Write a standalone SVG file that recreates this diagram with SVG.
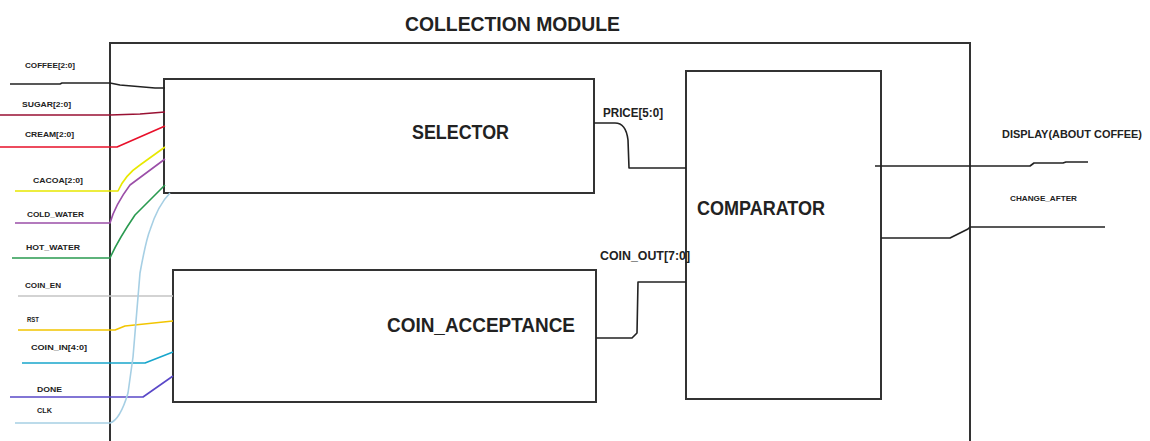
<svg xmlns="http://www.w3.org/2000/svg" width="1150" height="441" viewBox="0 0 1150 441">
<style>
.box{fill:none;stroke:#333;stroke-width:2}
.w{fill:none;stroke-width:1.6;stroke-linejoin:round}
text{font-family:"Liberation Sans",Arial,sans-serif;font-weight:bold;fill:#222}
.s{font-size:8px}
.m{font-size:12px}
.l{font-size:20px}
</style>
<rect width="1150" height="441" fill="#fff"/>
<g id="collection_module">
<path class="box" d="M110,445 V43 H970 V445"/>
<text class="l" x="405" y="31" textLength="215" lengthAdjust="spacingAndGlyphs">COLLECTION MODULE</text>
</g>
<g id="selector">
<rect class="box" x="164" y="79" width="430" height="114"/>
<text class="l" x="412" y="139" textLength="97" lengthAdjust="spacingAndGlyphs">SELECTOR</text>
</g>
<g id="coin_acceptance">
<rect class="box" x="173" y="270" width="423" height="132"/>
<text class="l" x="387" y="332" textLength="188" lengthAdjust="spacingAndGlyphs">COIN_ACCEPTANCE</text>
</g>
<g id="comparator">
<rect class="box" x="686" y="71" width="195" height="328"/>
<text class="l" x="697" y="215" textLength="128" lengthAdjust="spacingAndGlyphs">COMPARATOR</text>
</g>
<g id="labels">
<text class="s" x="25" y="68" textLength="50" lengthAdjust="spacingAndGlyphs">COFFEE[2:0]</text>
<text class="s" x="22" y="107" textLength="49" lengthAdjust="spacingAndGlyphs">SUGAR[2:0]</text>
<text class="s" x="25" y="137" textLength="49" lengthAdjust="spacingAndGlyphs">CREAM[2:0]</text>
<text class="s" x="33" y="183" textLength="50" lengthAdjust="spacingAndGlyphs">CACOA[2:0]</text>
<text class="s" x="27" y="217" textLength="57" lengthAdjust="spacingAndGlyphs">COLD_WATER</text>
<text class="s" x="26" y="250" textLength="54" lengthAdjust="spacingAndGlyphs">HOT_WATER</text>
<text class="s" x="25" y="288" textLength="36" lengthAdjust="spacingAndGlyphs">COIN_EN</text>
<text class="s" x="27" y="322" textLength="12" lengthAdjust="spacingAndGlyphs">RST</text>
<text class="s" x="31" y="350" textLength="56" lengthAdjust="spacingAndGlyphs">COIN_IN[4:0]</text>
<text class="s" x="37" y="392" textLength="25" lengthAdjust="spacingAndGlyphs">DONE</text>
<text class="s" x="37" y="413" textLength="15" lengthAdjust="spacingAndGlyphs">CLK</text>
<text class="m" x="603" y="117" textLength="60" lengthAdjust="spacingAndGlyphs">PRICE[5:0]</text>
<text class="m" x="600" y="260" textLength="90" lengthAdjust="spacingAndGlyphs">COIN_OUT[7:0]</text>
<text x="1002" y="138" font-size="10" textLength="140" lengthAdjust="spacingAndGlyphs">DISPLAY(ABOUT COFFEE)</text>
<text class="s" x="1010" y="201" textLength="67" lengthAdjust="spacingAndGlyphs">CHANGE_AFTER</text>
</g>
<g id="connectors">
<path class="w" stroke="#222" d="M10,84 H60 L62,83 H110 L120,85 L155,88 H165"/>
<path class="w" stroke="#991133" d="M0,115 H110 L140,114 L165,112"/>
<path class="w" stroke="#e8102a" d="M0,147 H117 L165,126"/>
<path class="w" stroke="#e8e800" d="M15,191 H118 Q125,175 140,165 L165,147"/>
<path class="w" stroke="#9b4fa8" d="M15,223 H110 Q115,205 130,185 L165,159"/>
<path class="w" stroke="#2a9a50" d="M12,258 H110 Q118,240 135,215 L165,185"/>
<path class="w" stroke="#c4c4c4" d="M18,296 H173"/>
<path class="w" stroke="#f2c500" d="M18,330 H115 L125,326 L173,321"/>
<path class="w" stroke="#18a6cc" d="M22,363 H145 L173,352"/>
<path class="w" stroke="#5a48c8" d="M10,397 H143 L173,376"/>
<path class="w" stroke="#a6cfe4" d="M15,423 H110 Q120,420 128,393 L133,357 L140,273 Q146,240 150,230 Q158,205 170,193"/>
<path class="w" stroke="#222" d="M594,123 H615 Q626,123 628,140 L629,168 H686"/>
<path class="w" stroke="#222" d="M596,338 H632 L637,333 L638,282 H686"/>
<path class="w" stroke="#222" d="M875,166 H1030 L1034,163 H1063 L1066,162 H1088"/>
<path class="w" stroke="#222" d="M881,238 H950 L956,235 L968,229 L970,227 H1105"/>
</g>
</svg>
